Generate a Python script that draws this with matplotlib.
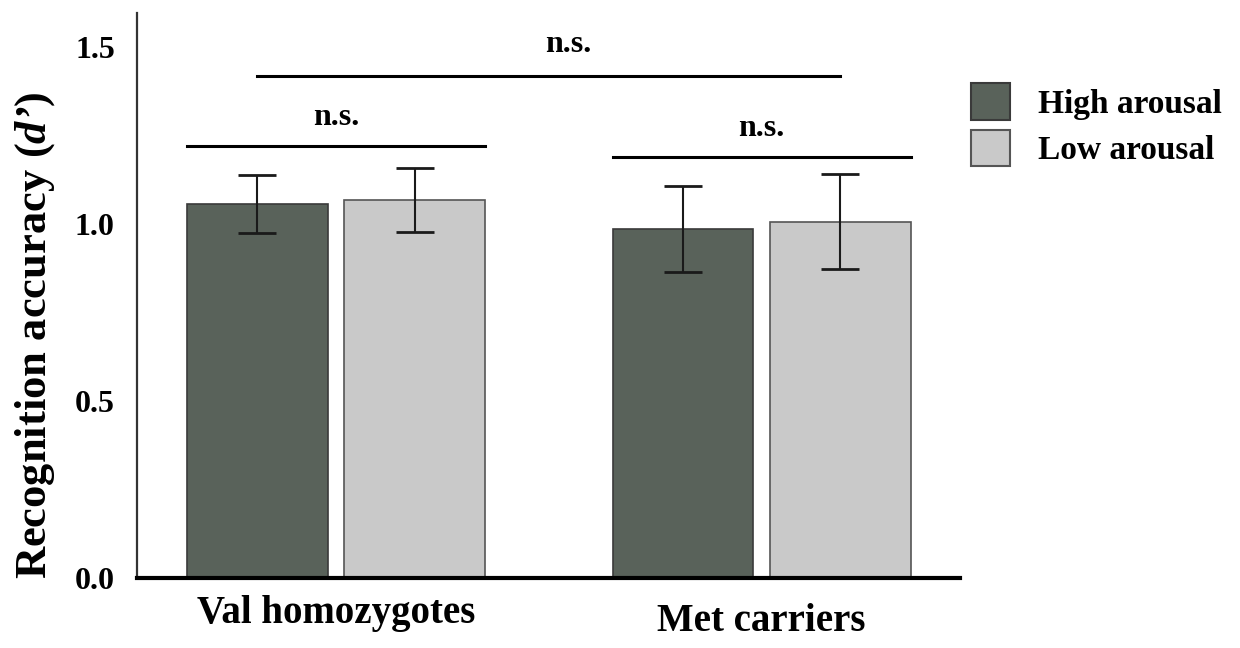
import matplotlib.pyplot as plt
from matplotlib.patches import Patch
import numpy as np

plt.rcParams['font.family'] = ['Liberation Serif', 'DejaVu Serif']
plt.rcParams['font.weight'] = 'bold'
plt.rcParams['mathtext.fontset'] = 'custom'
plt.rcParams['mathtext.bf'] = 'Liberation Serif:bold'
plt.rcParams['mathtext.bfit'] = 'Liberation Serif:italic:bold'
plt.rcParams['mathtext.rm'] = 'Liberation Serif'
plt.rcParams['mathtext.it'] = 'Liberation Serif:italic'

# Data
groups = ['Val homozygotes', 'Met carriers']
conditions = ['High arousal', 'Low arousal']
high_means = [1.056, 0.986]
high_err = [0.081, 0.121]
low_means = [1.068, 1.006]
low_err = [0.090, 0.134]
colors = ['#59625a', '#c9c9c9']

fig = plt.figure(figsize=(12.4, 6.48), dpi=100)
ax = fig.add_axes([0.1105, 0.108, 0.664, 0.872])

x = np.arange(len(groups))
w = 0.331
off = 0.185

ax.bar(x - off, high_means, w, color=colors[0], edgecolor='#3a3a3a', linewidth=1.2, zorder=2)
ax.bar(x + off, low_means, w, color=colors[1], edgecolor='#555555', linewidth=1.2, zorder=2)
ax.errorbar(x - off, high_means, yerr=high_err, fmt='none', ecolor='#1a1a1a',
            elinewidth=1.5, capsize=14, capthick=2, zorder=3)
ax.errorbar(x + off, low_means, yerr=low_err, fmt='none', ecolor='#1a1a1a',
            elinewidth=1.5, capsize=14, capthick=2, zorder=3)

# significance brackets
lw = 2.2
ax.plot([x[0] - off - w / 2, x[0] + off + w / 2], [1.22, 1.22], color='black', lw=lw)
ax.text(x[0], 1.30, 'n.s.', ha='center', va='center', fontsize=23)
ax.plot([x[1] - off - w / 2, x[1] + off + w / 2], [1.189, 1.189], color='black', lw=lw)
ax.text(x[1], 1.27, 'n.s.', ha='center', va='center', fontsize=23)
ax.plot([x[0] - off, x[1] + off], [1.418, 1.418], color='black', lw=lw)
ax.text((x[0] + x[1] + off * 0.5) / 2, 1.506, 'n.s.', ha='center', va='center', fontsize=23)

ax.set_xlim(-0.468, 1.467)
ax.set_ylim(0, 1.596)
ax.set_yticks([0.0, 0.5, 1.0, 1.5])
ax.set_yticklabels(['0.0', '0.5', '1.0', '1.5'], fontsize=23)
ax.tick_params(axis='y', length=0, pad=16)
ax.tick_params(axis='x', length=0, pad=12)
ax.set_xticks(x)
ax.set_xticklabels(groups, fontsize=28)
ax.get_xticklabels()[1].set_y(-0.014)

for s in ['top', 'right']:
    ax.spines[s].set_visible(False)
ax.spines['left'].set_linewidth(1.6)
ax.spines['left'].set_color('#333333')
ax.spines['bottom'].set_linewidth(3)

ax.set_ylabel("$\\mathbf{Recognition\\ accuracy\\ (}\\mathbfit{d\u2019}\\mathbf{)}$",
              fontsize=32)
ax.yaxis.set_label_coords(-0.097, 0.43)

handles = [Patch(facecolor=colors[0], edgecolor='#3a3a3a', linewidth=1.5),
           Patch(facecolor=colors[1], edgecolor='#555555', linewidth=1.5)]
fig.legend(handles, conditions, loc='upper left', bbox_to_anchor=(0.77, 0.897),
           frameon=False, fontsize=24, handlelength=1.15, handleheight=1.3,
           handletextpad=0.85, labelspacing=0.3, borderpad=0)

fig.savefig('out.png', dpi=100)
